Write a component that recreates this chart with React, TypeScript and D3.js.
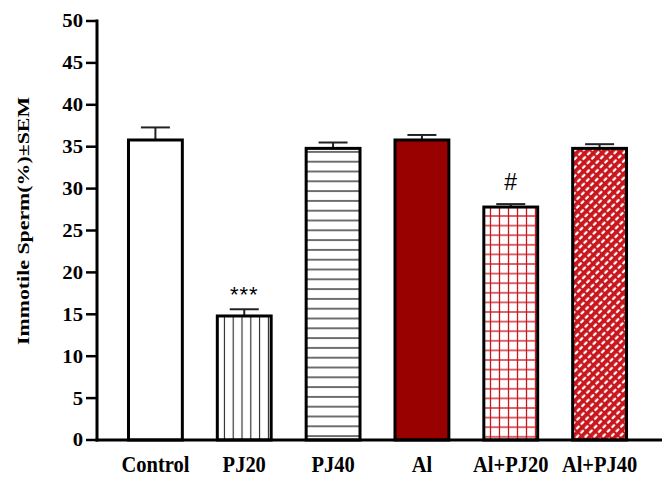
import React from "react";
import * as d3 from "d3";

const categories = ["Control", "PJ20", "PJ40", "Al", "Al+PJ20", "Al+PJ40"];
const means = [35.8, 14.8, 34.8, 35.8, 27.8, 34.8];
const sems = [1.5, 0.8, 0.7, 0.6, 0.35, 0.5];
const marks = ["", "***", "", "", "#", ""];
const fills = ["white", "url(#vlines)", "url(#hlines)", "#990000", "url(#redgrid)", "url(#redbrick)"];
const yTicks = [0, 5, 10, 15, 20, 25, 30, 35, 40, 45, 50];

const W = 667;
const H = 478;
const left = 95;
const right = 660;
const top = 21;
const bottom = 440;

export default function App() {
  const x = d3.scaleBand<string>().domain(categories).range([left, right]).paddingInner(0.36).paddingOuter(0.36);
  const y = d3.scaleLinear().domain([0, 50]).range([bottom, top]);
  const serif = "'Liberation Serif', 'Times New Roman', serif";
  const sans = "'Liberation Sans', Arial, sans-serif";
  const red = "#c8161d";

  return (
    <svg width={W} height={H} style={{ position: "absolute", left: 0, top: 0, background: "white" }}>
      <defs>
        <pattern id="vlines" patternUnits="userSpaceOnUse" width={8.8} height={10}>
          <rect width={8.8} height={10} fill="white" />
          <line x1={4.4} x2={4.4} y1={0} y2={10} stroke="#222" strokeWidth={1.1} />
        </pattern>
        <pattern id="hlines" patternUnits="userSpaceOnUse" width={10} height={9.8}>
          <rect width={10} height={9.8} fill="white" />
          <line x1={0} x2={10} y1={4.9} y2={4.9} stroke="#222" strokeWidth={1.3} />
        </pattern>
        <pattern id="redgrid" patternUnits="userSpaceOnUse" width={9} height={9.6}>
          <rect width={9} height={9.6} fill="white" />
          <line x1={4.5} x2={4.5} y1={0} y2={9.6} stroke={red} strokeWidth={1.3} />
          <line x1={0} x2={9} y1={4.8} y2={4.8} stroke={red} strokeWidth={1.3} />
        </pattern>
        <pattern id="redbrick" patternUnits="userSpaceOnUse" width={6.5} height={6} patternTransform="rotate(-45)">
          <rect width={6.5} height={6} fill={red} />
          <rect x={0} y={1.7} width={4.6} height={2.4} rx={1} fill="white" />
        </pattern>
      </defs>

      {/* y axis */}
      <line x1={left + 2} x2={left + 2} y1={top - 1.5} y2={bottom + 1.5} stroke="black" strokeWidth={3} />
      {yTicks.map((t) => (
        <g key={t}>
          <line x1={left - 9} x2={left + 2} y1={y(t)} y2={y(t)} stroke="black" strokeWidth={2.5} />
          <text
            transform={`translate(83, ${y(t)}) scale(1.12, 1)`}
            dy="0.35em"
            textAnchor="end"
            fontFamily={serif}
            fontWeight="bold"
            fontSize={18.5}
          >
            {t}
          </text>
        </g>
      ))}
      <text
        transform={`translate(29, 221) rotate(-90)`}
        textAnchor="middle"
        fontFamily={serif}
        fontWeight="bold"
        fontSize={17.5}
        textLength={248}
        lengthAdjust="spacingAndGlyphs"
      >
        Immotile Sperm(%)±SEM
      </text>

      {/* error bars */}
      {categories.map((c, i) => {
        const cx = (x(c) as number) + x.bandwidth() / 2;
        return (
          <g key={"e" + c}>
            <line x1={cx} x2={cx} y1={y(means[i])} y2={y(means[i] + sems[i])} stroke="#222" strokeWidth={2} />
            <line x1={cx - 14.5} x2={cx + 14.5} y1={y(means[i] + sems[i])} y2={y(means[i] + sems[i])} stroke="#222" strokeWidth={2} />
          </g>
        );
      })}

      {/* bars */}
      {categories.map((c, i) => (
        <rect
          key={c}
          x={(x(c) as number) + 1.5}
          y={y(means[i])}
          width={x.bandwidth() - 3}
          height={y(0) - y(means[i])}
          fill={fills[i]}
          stroke="black"
          strokeWidth={3}
        />
      ))}

      {/* significance marks */}
      {categories.map((c, i) =>
        marks[i] ? (
          <text
            key={"m" + c}
            x={(x(c) as number) + x.bandwidth() / 2}
            y={y(means[i] + sems[i]) - (marks[i] === "#" ? 14 : 7)}
            textAnchor="middle"
            fontFamily={sans}
            fontSize={marks[i] === "#" ? 23 : 22}
            letterSpacing={marks[i] === "#" ? 0 : 1}
          >
            {marks[i]}
          </text>
        ) : null
      )}

      {/* x axis */}
      <line x1={left + 0.5} x2={right + 2} y1={bottom} y2={bottom} stroke="black" strokeWidth={3} />
      {categories.map((c) => (
        <text
          key={"l" + c}
          transform={`translate(${(x(c) as number) + x.bandwidth() / 2}, 472) scale(1, 1.08)`}
          textAnchor="middle"
          fontFamily={serif}
          fontWeight="bold"
          fontSize={20.5}
        >
          {c}
        </text>
      ))}
    </svg>
  );
}
